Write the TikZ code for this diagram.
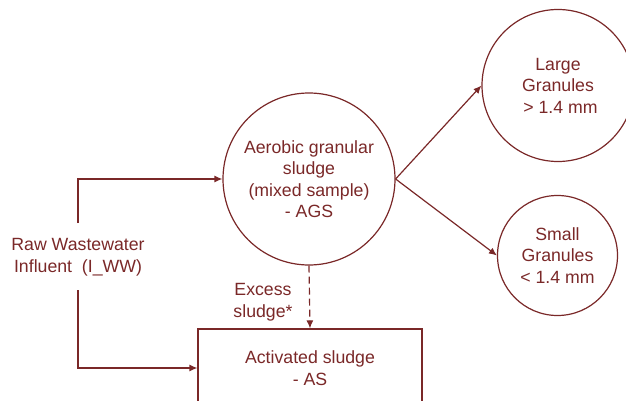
\documentclass[tikz,border=0pt]{standalone}
\usepackage{fontspec}
\setmainfont{Liberation Sans}
\usetikzlibrary{arrows.meta}
\definecolor{maroon}{RGB}{122,40,40}
\begin{document}
\begin{tikzpicture}[x=1pt,y=-1pt,
  every node/.style={text=maroon,font=\fontsize{17.7}{21.5}\selectfont,align=center},
  unit/.style={draw=maroon,line width=1.2pt,circle,inner sep=0pt},
  tank/.style={draw=maroon,line width=1.2pt,rectangle,inner sep=0pt},
  flow/.style={draw=maroon,line width=1.2pt,-{Latex[length=8pt,width=7pt]}},
  excess/.style={flow,dash pattern=on 7pt off 4pt}]
\useasboundingbox (0,0) rectangle (626,401);

\node[unit,minimum size=172pt] (ags) at (309,179)
  {Aerobic granular\\sludge\\(mixed sample)\\- AGS};
\node[unit,minimum size=152pt] (large) at (558,85.5)
  {Large\\Granules\\\ > 1.4 mm};
\node[unit,minimum size=120pt] (small) at (557.5,255.5)
  {Small\\Granules\\< 1.4 mm};
\node[tank,minimum width=224pt,minimum height=78pt] (as) at (310,368)
  {Activated sludge\\- AS};

\node (influent) at (78,257) {Raw Wastewater\\Influent\ \ (I\_WW)};
\node (exlabel) at (263,302) {Excess\\sludge*};

\coordinate (inTop) at (78,223);
\coordinate (inBot) at (78,290);

\draw[flow] (inTop) |- (ags.west);
\draw[flow] (inBot) |- (as.west);
\draw[flow] (ags.east) -- (large.west);
\draw[flow] (ags.east) -- (small.west);
\draw[excess] (ags.south) -- (as.north);
\end{tikzpicture}
\end{document}
